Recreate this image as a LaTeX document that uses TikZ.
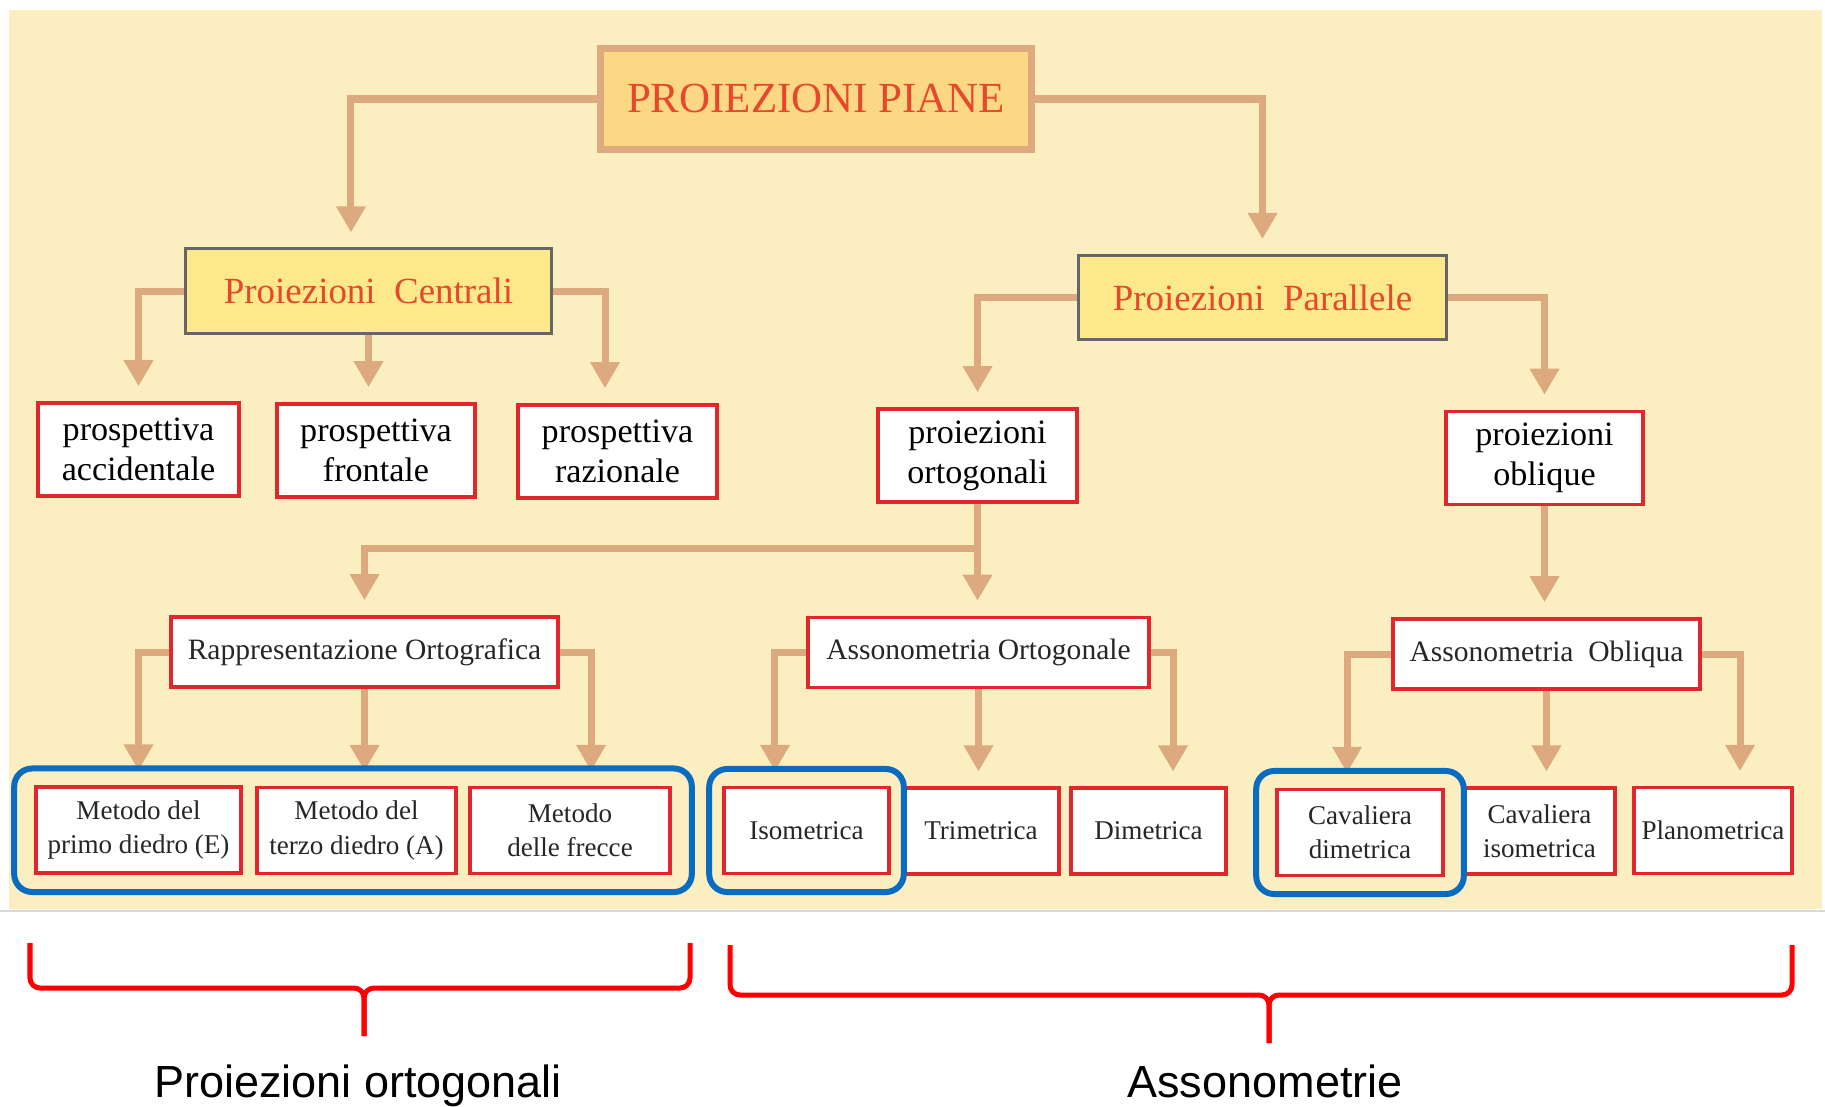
\documentclass[tikz,border=0pt]{standalone}
\usepackage{fontspec}
\setmainfont{Liberation Serif}
\newfontfamily\etichetta{Liberation Sans}
\usepackage{xcolor}
\usepackage{tikz}
\usetikzlibrary{arrows.meta,fit}

\definecolor{sfondo}{HTML}{FBEFC2}
\definecolor{freccia}{HTML}{DDA97F}
\definecolor{arancio}{HTML}{FCD784}
\definecolor{giallo}{HTML}{FBE98C}
\definecolor{rosso}{HTML}{E0282C}
\definecolor{blu}{HTML}{0A6CC0}
\definecolor{testorosso}{HTML}{E5482A}

\begin{document}
\begin{tikzpicture}[
            x=0.01cm, y=-0.01cm,
            % Blocchi dei primi due livelli
            titolo/.style={rectangle, draw=freccia, line width=0.07cm, fill=arancio, text=testorosso, font=\fontsize{12.2}{14}\selectfont, minimum width=4.3cm, minimum height=1cm},
            sezione/.style={rectangle, draw=black!60, line width=0.03cm, fill=giallo, text=testorosso, font=\fontsize{10.5}{12}\selectfont, minimum height=0.84cm},
            % Blocchi bianchi con bordo rosso
            block/.style={rectangle, draw=rosso, line width=0.035cm, fill=white, text=black!85, align=center, inner sep=0pt},
            grande/.style={block, text=black, font=\fontsize{9.7}{11.4}\selectfont, minimum width=1.99cm, minimum height=0.93cm},
            medio/.style={block, font=\fontsize{8.4}{10}\selectfont, minimum height=0.7cm},
            piccolo/.style={block, font=\fontsize{7.7}{9.7}\selectfont, minimum height=0.855cm},
            line/.style={draw=freccia, line width=0.07cm, -{Triangle[length=0.26cm, width=0.28cm]}, shorten >=0.15cm},
            gruppo/.style={draw=blu, line width=0.06cm, rounded corners=0.18cm, inner ysep=0.17cm},
            graffa/.style={draw=red, line width=0.05cm, rounded corners=0.1cm}
        ]
            \fill[white] (0,0) rectangle (1825,1106);
            \useasboundingbox (0,0) rectangle (1825,1106);
            \fill[sfondo] (9,10) rectangle (1822,909);
            \draw[black!15] (0,911) -- (1825,911);

            \node [titolo] (piane) at (816,99) {PROIEZIONI PIANE};
            \node [sezione, minimum width=3.65cm] (centrali) at (368.5,291) {Proiezioni~~Centrali};
            \node [sezione, minimum width=3.67cm] (parallele) at (1262.5,297.5) {Proiezioni~~Parallele};

            \node [grande, minimum width=2.01cm] (accidentale) at (138.5,449.5) {prospettiva\\accidentale};
            \node [grande, minimum width=1.98cm] (frontale) at (376,450.5) {prospettiva\\frontale};
            \node [grande] (razionale) at (617.5,451.5) {prospettiva\\razionale};
            \node [grande] (ortogonali) at (977.5,455.5) {proiezioni\\ortogonali};
            \node [grande, minimum width=1.97cm] (oblique) at (1544.5,458) {proiezioni\\oblique};

            \node [medio, minimum width=3.87cm] (ortografica) at (364.5,652) {Rappresentazione Ortografica};
            \node [medio, minimum width=3.41cm] (assorto) at (978.5,652.5) {Assonometria Ortogonale};
            \node [medio, minimum width=3.07cm] (assobl) at (1546.5,654) {Assonometria~~Obliqua};

            \node [piccolo, minimum width=2.05cm] (primo) at (138.5,830) {Metodo del\\primo diedro (E)};
            \node [piccolo, minimum width=1.99cm] (terzo) at (356.5,830.5) {Metodo del\\terzo diedro (A)};
            \node [piccolo, minimum width=2cm] (frecce) at (570,830.5) {Metodo\\delle frecce};
            \node [piccolo, minimum width=1.65cm] (iso) at (806.5,830.5) {Isometrica};
            \node [piccolo, minimum width=1.56cm] (tri) at (981,831) {Trimetrica};
            \node [piccolo, minimum width=1.55cm] (dim) at (1148.5,831) {Dimetrica};
            \node [piccolo, minimum width=1.66cm] (cavdim) at (1360,832.5) {Cavaliera\\dimetrica};
            \node [piccolo, minimum width=1.51cm] (caviso) at (1539.5,831) {Cavaliera\\isometrica};
            \node [piccolo, minimum width=1.58cm] (plano) at (1713,830.5) {Planometrica};

            \path [line] (piane.west) -| ([xshift=-0.175cm]centrali.north);
            \path [line] (piane.east) -| (parallele.north);

            \path [line] (centrali.west) -| (accidentale.north);
            \path [line] (centrali.south) -- (centrali.south |- frontale.north);
            \path [line] (centrali.east) -| ([xshift=-0.125cm]razionale.north);
            \path [line] (parallele.west) -| (ortogonali.north);
            \path [line] (parallele.east) -| (oblique.north);

            \coordinate (nodo) at (ortogonali.south |- 0,548);
            \draw [freccia, line width=0.07cm] (ortogonali.south) -- (nodo);
            \path [line] (nodo) -| (ortografica.north);
            \path [line] (nodo) -- (nodo |- assorto.north);
            \path [line] (oblique.south) -- (oblique.south |- assobl.north);

            \path [line] (ortografica.west) -| (primo.north);
            \path [line] (ortografica.south) -- (ortografica.south |- terzo.north);
            \path [line] (ortografica.east) -| ([xshift=0.21cm]frecce.north);
            \path [line] (assorto.west) -| ([xshift=-0.315cm]iso.north);
            \path [line] (assorto.south) -- (assorto.south |- tri.north);
            \path [line] (assorto.east) -| ([xshift=0.245cm]dim.north);
            \path [line] (assobl.west) -| ([xshift=-0.13cm]cavdim.north);
            \path [line] (assobl.south) -- (assobl.south |- caviso.north);
            \path [line] (assobl.east) -| ([xshift=0.27cm]plano.north);

            % Gruppi evidenziati
            \node [gruppo, fit=(primo)(frecce), inner xsep=0.2cm] (ortogruppo) {};
            \node [gruppo, fit=(iso), inner xsep=0.13cm] (isogruppo) {};
            \node [gruppo, fit=(cavdim), inner xsep=0.19cm] (cavgruppo) {};

            % Graffe e didascalie
            \coordinate (sx1) at (30,943);
            \coordinate (sx2) at (690,943);
            \coordinate (sxp) at (364,1036);
            \draw [graffa] (sx1) |- (sxp |- 0,988) -- (sxp);
            \draw [graffa] (sx2) |- (sxp |- 0,988) -- (sxp);
            \coordinate (dx1) at (730,945);
            \coordinate (dx2) at (1792,945);
            \coordinate (dxp) at (1269,1043);
            \draw [graffa] (dx1) |- (dxp |- 0,995) -- (dxp);
            \draw [graffa] (dx2) |- (dxp |- 0,995) -- (dxp);

            \node [anchor=base, font=\etichetta\fontsize{12.8}{14}\selectfont] (ortolabel) at (358,1097) {Proiezioni ortogonali};
            \node [anchor=base, font=\etichetta\fontsize{12.8}{14}\selectfont] (assolabel) at (1265,1097) {Assonometrie};
        \end{tikzpicture}
\end{document}
